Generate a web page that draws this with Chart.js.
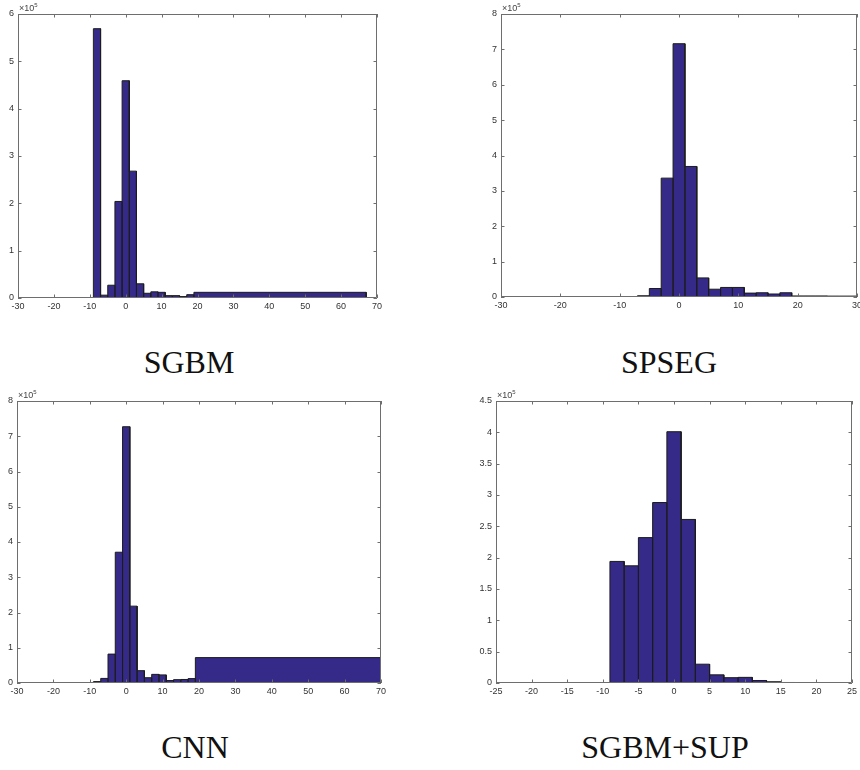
<!DOCTYPE html>
<html>
<head>
<meta charset="utf-8">
<script src="https://cdn.jsdelivr.net/npm/chart.js@4/dist/chart.umd.min.js"></script>
<style>
  body { margin: 0; background: #fff; width: 860px; height: 770px; position: relative; overflow: hidden; }
  canvas { position: absolute; }
  .title { position: absolute; width: 300px; text-align: center; font-family: "Liberation Serif", serif; font-size: 32px; line-height: 32px; color: #111; }
  .exp { position: absolute; font-family: "Liberation Sans", sans-serif; font-size: 9px; color: #444; }
  .exp sup { font-size: 6px; vertical-align: 4px; }
</style>
</head>
<body>
<canvas id="sgbm"></canvas>
<canvas id="spseg"></canvas>
<canvas id="cnn"></canvas>
<canvas id="sup"></canvas>

<div class="title" style="left:39px;top:346px">SGBM</div>
<div class="title" style="left:519px;top:346px">SPSEG</div>
<div class="title" style="left:45px;top:731px">CNN</div>
<div class="title" style="left:515px;top:731px">SGBM+SUP</div>

<div class="exp" style="left:19px;top:2px">&times;10<sup>5</sup></div>
<div class="exp" style="left:502px;top:2px">&times;10<sup>5</sup></div>
<div class="exp" style="left:18px;top:389px">&times;10<sup>5</sup></div>
<div class="exp" style="left:497px;top:389px">&times;10<sup>5</sup></div>

<script>
// bin edges (disparity error) and counts per bin for each method
const sgbmEdges = [-9, -7, -5, -3, -1, 1, 3, 5, 7, 9, 11, 13, 15, 17, 19, 67];
const sgbmCounts = [569000, 6000, 27000, 204000, 459000, 268000, 30000, 10000, 13000, 12000, 5000, 5000, 3000, 7000, 12000];

const spsegEdges = [-9, -7, -5, -3, -1, 1, 3, 5, 7, 9, 11, 13, 15, 17, 19, 21, 23, 25, 27, 29, 31];
const spsegCounts = [500, 3500, 24000, 336000, 716000, 369000, 54000, 22000, 27000, 27000, 11000, 12000, 8500, 12000, 3000, 3000, 3000, 2500, 2500, 2500];

const cnnEdges = [-9, -7, -5, -3, -1, 1, 3, 5, 7, 9, 11, 13, 15, 17, 19, 70];
const cnnCounts = [4000, 13000, 82000, 371000, 727000, 218000, 35000, 15000, 24500, 23000, 7000, 9500, 10000, 12500, 72000];

const supEdges = [-9, -7, -5, -3, -1, 1, 3, 5, 7, 9, 11, 13, 15, 17, 19, 21, 24];
const supCounts = [194000, 187000, 232000, 288000, 401000, 261000, 30000, 13000, 8500, 9000, 4000, 2000, 800, 600, 500, 500];

// axis ranges: [xMin, xMax, xStep, yMax, yStep]
const sgbmAxis = [-30, 70, 10, 600000, 100000];
const spsegAxis = [-30, 30, 10, 800000, 100000];
const cnnAxis = [-30, 70, 10, 800000, 100000];
const supAxis = [-25, 25, 5, 450000, 50000];

const barFill = "#352a87";
const barEdge = "#1c1c1c";
const axisColor = "#6e6e6e";

// MATLAB style box with inward tick marks on all four sides
const boxTicks = {
  id: "boxTicks",
  afterDatasetsDraw(chart) {
    const { ctx, chartArea: a, scales } = chart;
    const len = 3.5;
    ctx.save();
    ctx.strokeStyle = axisColor;
    ctx.lineWidth = 1;
    ctx.beginPath();
    scales.x.ticks.forEach((t) => {
      const px = Math.round(scales.x.getPixelForValue(t.value)) + 0.5;
      ctx.moveTo(px, a.bottom);
      ctx.lineTo(px, a.bottom - len);
      ctx.moveTo(px, a.top);
      ctx.lineTo(px, a.top + len);
    });
    scales.y.ticks.forEach((t) => {
      const py = Math.round(scales.y.getPixelForValue(t.value)) + 0.5;
      ctx.moveTo(a.left, py);
      ctx.lineTo(a.left + len, py);
      ctx.moveTo(a.right, py);
      ctx.lineTo(a.right - len, py);
    });
    ctx.rect(a.left + 0.5, a.top + 0.5, a.right - a.left - 1, a.bottom - a.top - 1);
    ctx.stroke();
    ctx.restore();
  },
};

// histogram outline: up/down at every edge so the dividers get drawn
function histPoints(edges, counts) {
  const pts = [];
  counts.forEach((c, i) => {
    pts.push({ x: edges[i], y: 0 });
    pts.push({ x: edges[i], y: c });
    pts.push({ x: edges[i + 1], y: c });
    pts.push({ x: edges[i + 1], y: 0 });
  });
  return pts;
}

// plot area box: left, top, right, bottom in page pixels
function drawHist(id, edges, counts, axis, box) {
  const yW = 30, xH = 20, padT = 20, padR = 15;
  const el = document.getElementById(id);
  const w = box[2] - box[0] + yW + padR;
  const h = box[3] - box[1] + padT + xH;
  el.width = w;
  el.height = h;
  el.style.left = box[0] - yW + "px";
  el.style.top = box[1] - padT + "px";
  el.style.width = w + "px";
  el.style.height = h + "px";

  const tickFont = { family: "'Liberation Sans', Arial, sans-serif", size: 9 };

  new Chart(el, {
    type: "line",
    data: {
      datasets: [
        {
          data: histPoints(edges, counts),
          borderColor: barEdge,
          backgroundColor: barFill,
          borderWidth: 1,
          pointRadius: 0,
          tension: 0,
          fill: "origin",
        },
      ],
    },
    options: {
      responsive: false,
      animation: false,
      devicePixelRatio: 1,
      layout: { padding: { top: padT, right: padR, left: 0, bottom: 0 } },
      plugins: { legend: { display: false }, tooltip: { enabled: false } },
      scales: {
        x: {
          type: "linear",
          min: axis[0],
          max: axis[1],
          grid: { display: false, drawTicks: false },
          border: { display: false },
          ticks: { stepSize: axis[2], autoSkip: false, maxRotation: 0, padding: 3, color: "#333", font: tickFont },
          afterFit: (s) => { s.height = xH; },
        },
        y: {
          min: 0,
          max: axis[3],
          grid: { display: false, drawTicks: false },
          border: { display: false },
          ticks: {
            stepSize: axis[4],
            autoSkip: false,
            padding: 4,
            color: "#333",
            font: tickFont,
            callback: (v) => String(Math.round(v / 10000) / 10),
          },
          afterFit: (s) => { s.width = yW; },
        },
      },
    },
    plugins: [boxTicks],
  });
}

drawHist("sgbm", sgbmEdges, sgbmCounts, sgbmAxis, [18, 14, 377, 298]);
drawHist("spseg", spsegEdges, spsegCounts, spsegAxis, [501, 14, 857, 297]);
drawHist("cnn", cnnEdges, cnnCounts, cnnAxis, [17, 401, 381, 683]);
drawHist("sup", supEdges, supCounts, supAxis, [496, 401, 852, 683]);
</script>
</body>
</html>
